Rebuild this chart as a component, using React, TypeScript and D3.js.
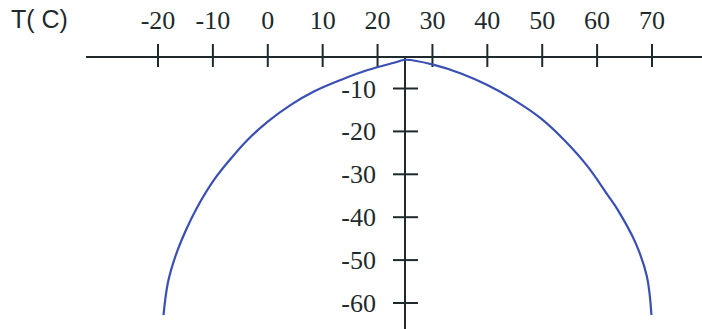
import React from 'react'
import * as d3 from 'd3'

// tick values on the two axes
const tTicks = [-20, -10, 0, 10, 20, 30, 40, 50, 60, 70]
const vTicks = [-10, -20, -30, -40, -50, -60]
const axisLabel = 'T( C)'
const crossT = 25

// curve
const curveT = [-19.0, -18.2, -16.85, -14.9, -12.95, -9.8, -6.7, -3.7, 0.0, 4.2, 8.4, 13.3, 18.2, 23.0, 25.1, 30.3, 35.2, 40.0, 44.9, 49.7, 54.0, 58.3, 61.9, 63.76, 67.04, 69.08, 69.9]
const curveV = [-62.8, -55.3, -49.2, -43.0, -37.9, -31.3, -26.3, -22.0, -17.7, -13.8, -10.7, -8.0, -5.7, -4.0, -3.3, -4.5, -6.5, -9.2, -12.7, -16.9, -22.0, -28.2, -34.8, -38.3, -46.1, -53.9, -62.8]

const width = 702
const height = 329
const axisY = 57
const ink = '#1e2a2c'
const serif = "'Liberation Serif', 'Times New Roman', serif"
const sans = "'Liberation Sans', Arial, sans-serif"

export default function App() {
    const x = d3.scaleLinear().domain([-20, 70]).range([158, 652])
    const y = d3.scaleLinear().domain([-10, -60]).range([88.5, 303])

    const pts: [number, number][] = curveT.map((t, i) => [t, curveV[i]])
    const line = d3
        .line<[number, number]>()
        .x(d => x(d[0]))
        .y(d => y(d[1]))
        .curve(d3.curveCatmullRom.alpha(0.5))

    const vx = x(crossT)

    return (
        <div style={{ position: 'absolute', left: 0, top: 0 }}>
            <svg width={width} height={height} style={{ display: 'block', background: '#fff' }}>
                <text x={11} y={28} style={{ fontFamily: sans }} fontSize={25} fill={ink}>
                    {axisLabel}
                </text>

                {/* horizontal axis */}
                <line x1={86} x2={width} y1={axisY} y2={axisY} stroke={ink} strokeWidth={2} />
                {tTicks.map(t => (
                    <g key={t}>
                        <line x1={x(t)} x2={x(t)} y1={axisY - 13} y2={axisY + 10} stroke={ink} strokeWidth={2} />
                        <text x={x(t)} y={29} textAnchor="middle" style={{ fontFamily: serif }} fontSize={26} fill={ink}>
                            {t}
                        </text>
                    </g>
                ))}

                {/* vertical axis */}
                <line x1={vx} x2={vx} y1={axisY} y2={height} stroke={ink} strokeWidth={2} />
                {vTicks.map(v => (
                    <g key={v}>
                        <line x1={vx - 12} x2={vx + 13} y1={y(v)} y2={y(v)} stroke={ink} strokeWidth={2} />
                        <text x={376} y={y(v) + 9} textAnchor="end" style={{ fontFamily: serif }} fontSize={26} fill={ink}>
                            {v}
                        </text>
                    </g>
                ))}

                <path d={line(pts) || ''} fill="none" stroke="#3a4fb3" strokeWidth={2.2} />
            </svg>
        </div>
    )
}
